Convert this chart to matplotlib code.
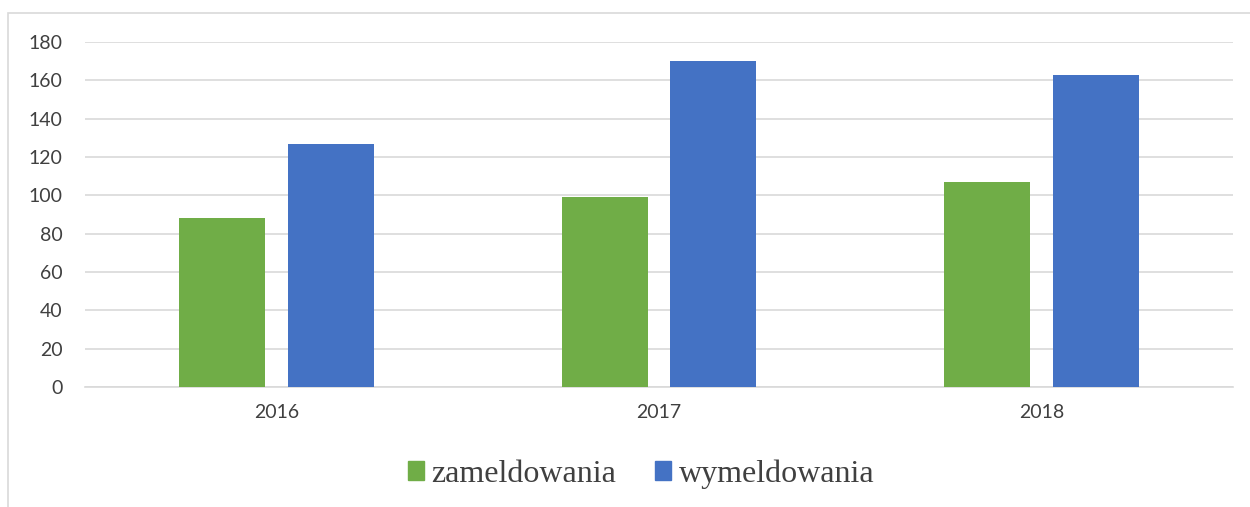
import numpy as np
import matplotlib.pyplot as plt
from matplotlib.patches import Rectangle, Patch

# data
years = ['2016', '2017', '2018']
zameldowania = [88, 99, 107]
wymeldowania = [127, 170, 163]

green = '#70AD47'
blue = '#4472C4'


def main() -> None:
    fig = plt.figure(figsize=(12.5, 5.07), dpi=100)
    W, H = 1250, 507

    # outer chart frame
    fig.patches.append(Rectangle((8 / W, -0.01), 1.1, 1 - 13 / H + 0.01,
                                 transform=fig.transFigure, fill=False,
                                 edgecolor='#D9D9D9', linewidth=1.2))

    ax = fig.add_axes([85 / W, 1 - 387 / H, (1233 - 85) / W, (387 - 42) / H])
    x = np.arange(len(years))
    bw = 0.225
    ax.bar(x - 0.142, zameldowania, width=bw, color=green, zorder=3)
    ax.bar(x + 0.142, wymeldowania, width=bw, color=blue, zorder=3)

    ax.set_xlim(-0.5, 2.5)
    ax.set_ylim(0, 180)
    ax.set_yticks(range(0, 181, 20))
    ax.grid(axis='y', color='#D9D9D9', linewidth=1.2, zorder=0)
    for s in ['top', 'right', 'left']:
        ax.spines[s].set_visible(False)
    ax.spines['bottom'].set_color('#D9D9D9')
    ax.spines['bottom'].set_linewidth(1.2)
    ax.tick_params(length=0, labelsize=14, labelcolor='#404040')
    ax.tick_params(axis='y', pad=16)
    ax.tick_params(axis='x', pad=12)
    ax.set_xticks(x)
    ax.set_xticklabels(years)
    for lab in ax.get_xticklabels() + ax.get_yticklabels():
        lab.set_family('Lato')

    handles = [Patch(color=green, label='zameldowania'),
               Patch(color=blue, label='wymeldowania')]
    fig.legend(handles=handles, loc='center', bbox_to_anchor=(641 / W, 1 - 474 / H),
               ncol=2, frameon=False, handlelength=0.5, handleheight=0.5,
               handletextpad=0.25, columnspacing=1.2,
               prop={'family': 'Liberation Serif', 'size': 23})
    for t in fig.legends[0].get_texts():
        t.set_color('#404040')

    fig.savefig('out.png', dpi=100)


if __name__ == "__main__":
    main()
